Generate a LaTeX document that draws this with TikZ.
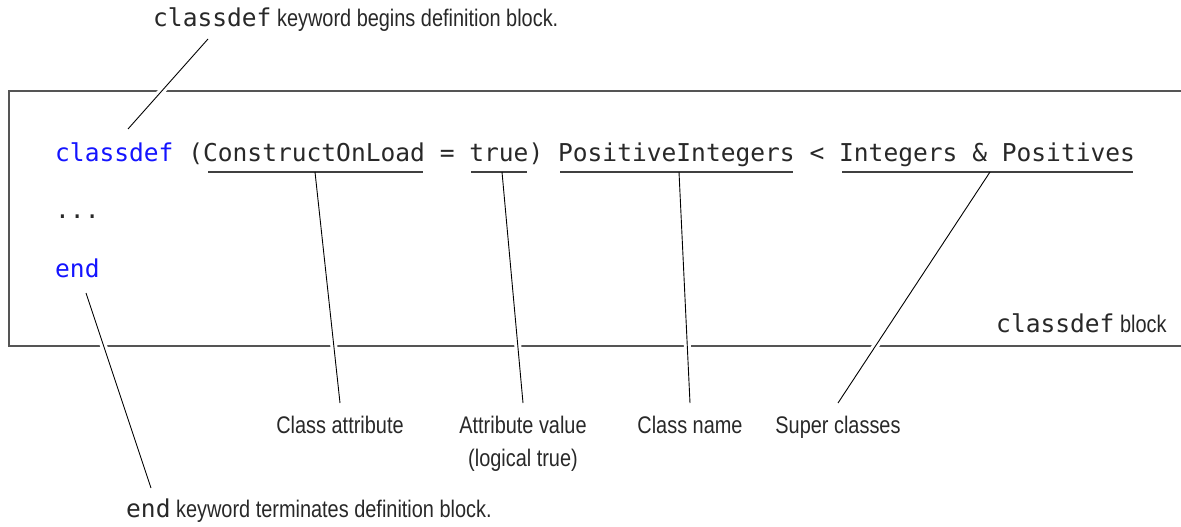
\documentclass[tikz,border=0pt]{standalone}
\usepackage{fontspec}
\newfontfamily\codefont{DejaVu Sans Mono}
\newfontfamily\labfont[FakeStretch=0.83]{Liberation Sans}
\definecolor{kwblue}{RGB}{20,20,255}
\definecolor{txt}{RGB}{40,40,40}
\definecolor{boxgray}{RGB}{85,85,85}
\tikzset{
  code/.style={anchor=base west, inner sep=0pt, font=\fontsize{24.57}{28}\selectfont\codefont, text=txt},
  lab/.style={anchor=base, inner sep=0pt, font=\fontsize{24}{28}\selectfont\labfont, text=txt},
  boxline/.style={draw=boxgray, line width=1.4pt},
  uline/.style={draw=black!75, line width=1.3pt},
  leader/.style={draw=black, line width=0.9pt},
  halo/.style={draw=white, line width=7pt}
}
\begin{document}
\begin{tikzpicture}[x=1pt,y=-1pt]
\useasboundingbox (0,0) rectangle (1181,527);
% box (open on the right)
\draw[boxline] (1181,91) -- (9,91) -- (9,346) -- (1181,346);
% code lines
\node[code] (line1) at (55,161) {\textcolor{kwblue}{classdef} (ConstructOnLoad = true) PositiveIntegers < Integers \& Positives};
\node[code] (dots) at (55,218) {...};
\node[code] (endkw) at (55,277) {\textcolor{kwblue}{end}};
\node[code] (blk) at (996,332) {classdef{\fontsize{24}{28}\selectfont\labfont\ block}};
% top and bottom notes
\node[code] (topnote) at (153,27) {classdef{\fontsize{24}{28}\selectfont\labfont\ keyword begins definition block.}};
\node[code] (botnote) at (126,517) {end{\fontsize{24}{28}\selectfont\labfont\ keyword terminates definition block.}};
% labels
\node[lab] (lclass) at (340,433) {Class attribute};
\node[lab] (lval) at (523,433) {Attribute value};
\node[lab] (lval2) at (523,466) {(logical true)};
\node[lab] (lname) at (690,433) {Class name};
\node[lab] (lsuper) at (838,433) {Super classes};
% underline coordinates
\coordinate (u1a) at (208,172); \coordinate (u1b) at (423,172); \coordinate (u1m) at (315,172);
\coordinate (u2a) at (471,172); \coordinate (u2b) at (527,172); \coordinate (u2m) at (502,172);
\coordinate (u3a) at (560,172); \coordinate (u3b) at (793,172); \coordinate (u3m) at (679,172);
\coordinate (u4a) at (842,172); \coordinate (u4b) at (1133,172); \coordinate (u4m) at (990,172);
\draw[uline] (u1a) -- (u1b);
\draw[uline] (u2a) -- (u2b);
\draw[uline] (u3a) -- (u3b);
\draw[uline] (u4a) -- (u4b);
% leader end points
\coordinate (t1) at (340,403);
\coordinate (t2) at (523,403);
\coordinate (t3) at (690,403);
\coordinate (t4) at (838,403);
\coordinate (kwtop) at (208,39);
\coordinate (kwbot) at (128,129);
\coordinate (endtop) at (86,293);
\coordinate (endbot) at (151,488);
% halos where leaders cross the box
\begin{scope}
\clip (0,87) rectangle (1181,95) (0,342) rectangle (1181,350);
\draw[halo] (u1m) -- (t1) (u2m) -- (t2) (u3m) -- (t3) (u4m) -- (t4)
  (kwtop) -- (kwbot) (endtop) -- (endbot);
\end{scope}
% leaders
\draw[leader] (u1m) -- (t1);
\draw[leader] (u2m) -- (t2);
\draw[leader] (u3m) -- (t3);
\draw[leader] (u4m) -- (t4);
\draw[leader] (kwtop) -- (kwbot);
\draw[leader] (endtop) -- (endbot);
\end{tikzpicture}
\end{document}
